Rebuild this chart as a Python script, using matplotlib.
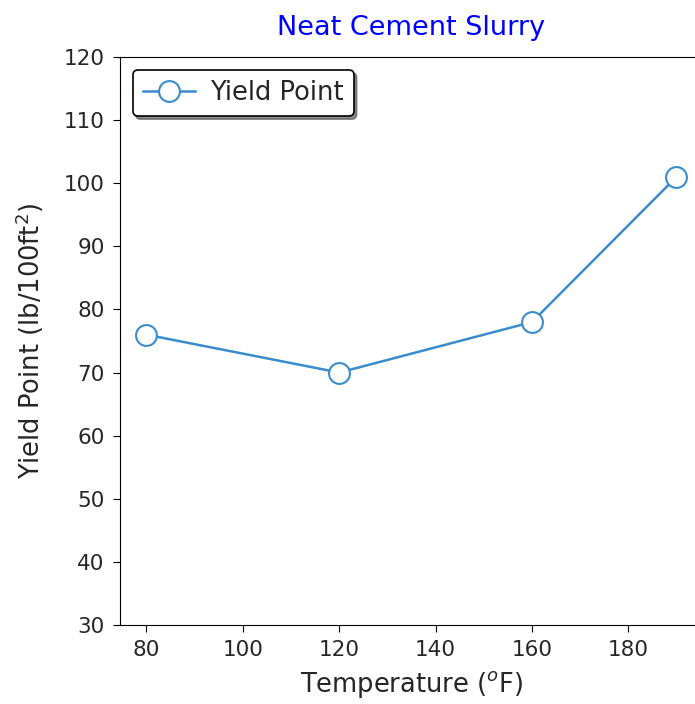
import matplotlib
matplotlib.use("Agg")
import matplotlib.pyplot as plt

temperature = [80, 120, 160, 190]
yield_point = [76, 70, 78, 101]

line_color = "#3a8ccc"
text_color = "#262626"

fig = plt.figure(figsize=(6.95, 7.04), dpi=100)
# axes run slightly past the right edge of the canvas
ax = fig.add_axes([120 / 695, 1 - 625 / 704, 583 / 695, 568 / 704])

ax.plot(
    temperature,
    yield_point,
    color=line_color,
    linewidth=1.8,
    marker="o",
    markersize=15,
    markerfacecolor="white",
    markeredgecolor=line_color,
    markeredgewidth=1.5,
    label="Yield Point",
)

ax.set_xlim(74.5, 195.5)
ax.set_ylim(30, 120)
ax.set_xticks([80, 100, 120, 140, 160, 180])
ax.set_yticks(range(30, 121, 10))
ax.tick_params(labelsize=15.5, length=5, pad=6, labelcolor=text_color)

ax.set_title("Neat Cement Slurry", color="blue", fontsize=19.5, pad=16)
ax.set_xlabel("Temperature ($^o$F)", fontsize=18.5, color=text_color, labelpad=6)
ax.set_ylabel("Yield Point (lb/100ft$^2$)", fontsize=18.5, color=text_color, labelpad=13)

leg = ax.legend(loc="upper left", shadow={"ox": 2, "oy": -2, "color": "#444444", "alpha": 0.6},
                fancybox=True, framealpha=1, fontsize=18.5, handletextpad=0.6)
leg.get_frame().set_edgecolor("black")
leg.get_frame().set_linewidth(1.2)
for t in leg.get_texts():
    t.set_color(text_color)

fig.savefig("out.png", dpi=100)
